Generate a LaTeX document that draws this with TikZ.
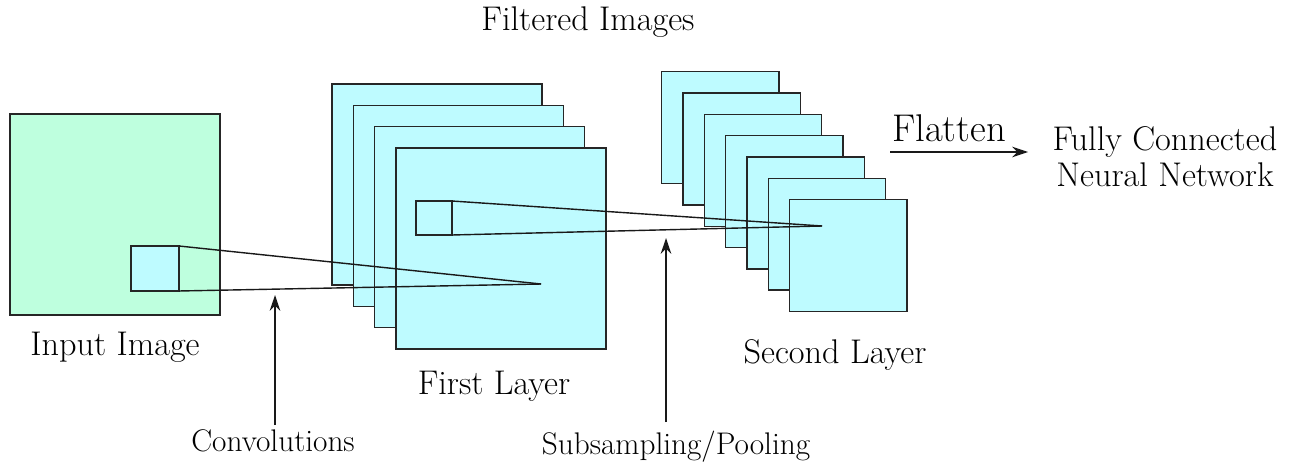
\documentclass[tikz,border=0pt]{standalone}
\usetikzlibrary{positioning, arrows.meta}
\definecolor{verdeentrada}{RGB}{190,255,222}
\definecolor{cianmapa}{RGB}{190,251,255}

\begin{document}
\begin{tikzpicture}[
		% Unidades en pixeles de la figura
		x=0.02cm, y=-0.02cm,
		% Estilos de mapas y ventanas
		imagen/.style={draw=black!85, fill=verdeentrada, line width=0.8pt, rectangle, minimum width=4.2cm, minimum height=4.02cm, inner sep=0pt, outer sep=0pt, anchor=north west},
		mapa/.style={imagen, fill=cianmapa},
		mapa_peq/.style={mapa, minimum width=2.35cm, minimum height=2.24cm},
		nucleo/.style={draw=black!85, fill=cianmapa, line width=0.8pt, rectangle, inner sep=0pt, outer sep=0pt, anchor=north west},
		% Estilo de flechas y etiquetas
		linea/.style={line width=0.8pt, draw=black!90},
		flecha/.style={-{Stealth[length=9pt, width=6pt]}, line width=0.8pt, draw=black!90},
		texto/.style={font=\fontsize{19.5}{20.5}\selectfont, inner sep=0pt, align=center},
		texto_peq/.style={font=\fontsize{17.8}{20}\selectfont, inner sep=0pt},
		texto_gr/.style={font=\fontsize{22}{25}\selectfont, inner sep=0pt}
		]
		
		\useasboundingbox (0,0) rectangle (1290,463);
		
		% --- IMAGEN DE ENTRADA ---
		\node[imagen] (entrada) at (10,114) {};
		\node[nucleo, minimum width=0.96cm, minimum height=0.9cm] (nucleo_ent) at (131,246) {};
		
		% --- PRIMERA CAPA (4 mapas filtrados) ---
		\foreach \i in {0,...,3}
			\node[mapa] (capa1-\i) at ({332+21.3*\i},{84+21.3*\i}) {};
		\node[nucleo, minimum width=0.72cm, minimum height=0.68cm] (nucleo_capa1) at (416,201) {};
		
		% --- SEGUNDA CAPA (7 mapas submuestreados) ---
		\foreach \i in {0,...,6}
			\node[mapa_peq] (capa2-\i) at ({661.7+21.3*\i},{71.7+21.3*\i}) {};
		
		% --- PROYECCIONES DE LAS VENTANAS ---
		\coordinate (foco1) at (541,284);
		\coordinate (foco2) at (822,226);
		\draw[linea] (nucleo_ent.north east) -- (foco1);
		\draw[linea] (nucleo_ent.south east) -- (foco1);
		\draw[linea] (nucleo_capa1.north east) -- (foco2);
		\draw[linea] (nucleo_capa1.south east) -- (foco2);
		
		% --- FLECHAS DE OPERACIONES ---
		\coordinate (conv_ini) at (275,425);
		\coordinate (conv_fin) at (275,295);
		\coordinate (pool_ini) at (666,422);
		\coordinate (pool_fin) at (666,238);
		\coordinate (plano_ini) at (890,152);
		\coordinate (plano_fin) at (1028,152);
		\draw[flecha] (conv_ini) -- (conv_fin);
		\draw[flecha] (pool_ini) -- (pool_fin);
		\draw[flecha] (plano_ini) -- (plano_fin);
		
		% --- ETIQUETAS ---
		\node[texto] (tit_filtradas) at (588,22) {Filtered Images};
		\node[texto] (tit_entrada) at (115,347) {Input Image};
		\node[texto] (tit_capa1) at (494,386) {First Layer};
		\node[texto] (tit_capa2) at (835,355) {Second Layer};
		\node[texto_peq] (tit_conv) at (273,441) {Convolutions};
		\node[texto_peq] (tit_pool) at (676,447) {Subsampling/Pooling};
		\node[texto_gr] (tit_plano) at (949,128) {Flatten};
		\node[texto] (tit_red) at (1165,157) {Fully Connected\\Neural Network};
		
	\end{tikzpicture}
\end{document}
